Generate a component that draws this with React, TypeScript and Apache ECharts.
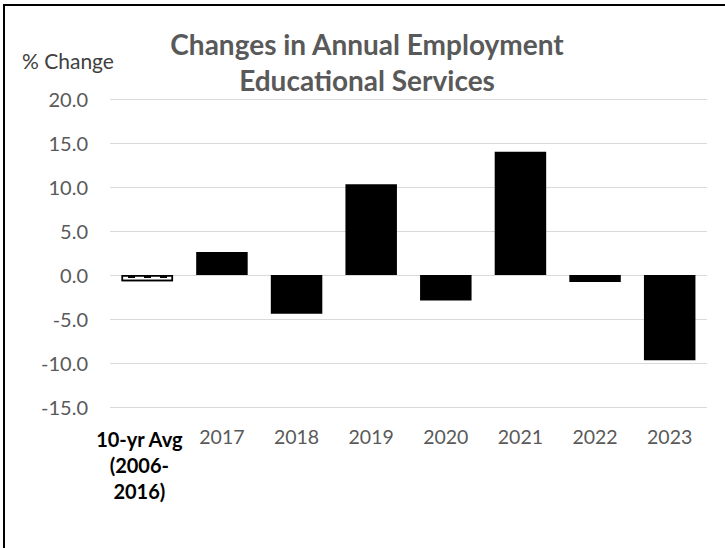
import React, { useEffect, useRef } from "react";
import * as echarts from "echarts";

const categories = ["10-yr Avg\n(2006-\n2016)", "2017", "2018", "2019", "2020", "2021", "2022", "2023"];
const values = [-0.7, 2.6, -4.4, 10.3, -2.9, 14.0, -0.8, -9.7];
const titleLines = ["Changes in Annual Employment", "Educational Services"];
const yAxisTitle = "% Change";

const FONT = "Lato, 'Open Sans', sans-serif";

export default function App() {
  const ref = useRef<HTMLDivElement>(null);
  useEffect(() => {
    if (!ref.current) return;
    const chart = echarts.init(ref.current, null, { renderer: "svg" });
    const data = values.map((v, i) =>
      i === 0
        ? {
            value: v,
            itemStyle: {
              color: "#ffffff",
              borderColor: "#000000",
              borderWidth: 1.5,
              decal: {
                symbol: "rect",
                color: "#000000",
                backgroundColor: "#ffffff",
                dashArrayX: [[7, 9]],
                dashArrayY: [3, 2],
                rotation: 0,
                symbolSize: 1,
              },
            },
          }
        : { value: v, itemStyle: { color: "#000000" } }
    );
    chart.setOption({
      animation: false,
      backgroundColor: "#ffffff",
      textStyle: { fontFamily: FONT },
      grid: { left: 110, right: 18, top: 99, bottom: 141 },
      xAxis: {
        type: "category",
        data: categories,
        axisLine: { show: false, onZero: false },
        axisTick: { show: false },
        axisLabel: {
          margin: 19,
          interval: 0,
          color: "#595959",
          fontSize: 19.5,
          fontFamily: FONT,
          formatter: (val: string, idx: number) =>
            idx === 0
              ? val.split("\n").map((l) => `{b|${l}}`).join("\n")
              : val,
          rich: {
            b: {
              fontWeight: "bold",
              color: "#000000",
              fontSize: 20,
              lineHeight: 26,
              fontFamily: FONT,
              padding: [0, 16, 0, 0],
            },
          },
        },
      },
      yAxis: {
        type: "value",
        min: -15,
        max: 20,
        interval: 5,
        axisLine: { show: false },
        axisTick: { show: false },
        splitLine: { lineStyle: { color: "#d9d9d9", width: 1 } },
        axisLabel: {
          margin: 22,
          color: "#595959",
          fontSize: 20,
          fontFamily: FONT,
          formatter: (v: number) => v.toFixed(1),
        },
      },
      series: [
        {
          type: "bar",
          data,
          barCategoryGap: "31%",
        },
      ],
      graphic: [
        {
          type: "polyline",
          shape: { points: [[4, 548], [4, 5], [725, 5]] },
          style: { stroke: "#000000", lineWidth: 2, fill: "none" },
        },
        {
          type: "text",
          x: 367,
          y: 44,
          style: {
            text: titleLines[0],
            font: `bold 28px ${FONT}`,
            fill: "#595959",
            textAlign: "center",
            textVerticalAlign: "middle",
          },
        },
        {
          type: "text",
          x: 367,
          y: 80,
          style: {
            text: titleLines[1],
            font: `bold 28px ${FONT}`,
            fill: "#595959",
            textAlign: "center",
            textVerticalAlign: "middle",
          },
        },
        {
          type: "text",
          x: 22,
          y: 60,
          style: {
            text: yAxisTitle,
            font: `21px ${FONT}`,
            fill: "#404040",
            textAlign: "left",
            textVerticalAlign: "middle",
          },
        },
      ],
    });
    return () => chart.dispose();
  }, []);
  return (
    <div
      ref={ref}
      style={{ position: "absolute", left: 0, top: 0, width: 725, height: 548 }}
    />
  );
}
